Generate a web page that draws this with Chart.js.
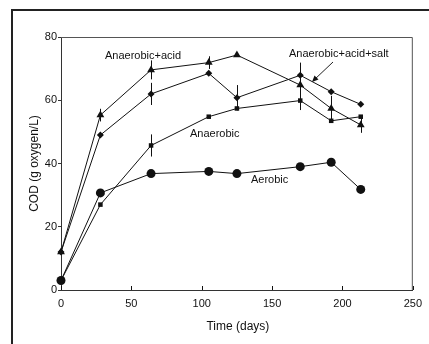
<!DOCTYPE html>
<html>
<head>
<meta charset="utf-8">
<script src="https://cdn.jsdelivr.net/npm/chart.js@4"></script>
<style>
  html, body { margin: 0; padding: 0; background: #fff; }
  #wrap { width: 429px; height: 344px; }
</style>
</head>
<body>
<div id="wrap"><canvas id="chart" width="429" height="344"></canvas></div>
<script>
// Data
const days = [0, 28, 64, 105, 125, 170, 192, 213];
const xTicks = [0, 50, 100, 150, 200, 250];
const yTicks = [0, 20, 40, 60, 80];

const acid = [12, 55.3, 69.6, 71.9, 74.3, 64.8, 57.4, 52.2];
const acidErr = [0, 2, 3, 2, 0, 4, 4, 2.5];

const acidSalt = [12, 49, 62, 68.5, 60.8, 67.9, 62.7, 58.7];
const acidSaltErr = [0, 0, 3.5, 0, 4, 4, 0, 0];

const anaerobic = [3, 27, 45.7, 54.8, 57.4, 59.9, 53.5, 54.8];
const anaerobicErr = [0, 0, 3.5, 0, 0, 3, 0, 0];

const aerobic = [3, 30.7, 36.8, 37.5, 36.8, 39, 40.4, 31.8];
const aerobicErr = [0, 0, 0, 0, 0, 0, 0, 0];

const ink = '#111';
const font = { family: 'Liberation Sans, Arial, sans-serif', size: 11 };

function pts(vals) {
    return vals.map((v, i) => ({ x: days[i], y: v }));
}

function series(label, vals, errs, style, r) {
    return {
        label: label,
        data: pts(vals),
        errs: errs,
        borderColor: ink,
        backgroundColor: ink,
        borderWidth: 1,
        pointStyle: style,
        pointRadius: r,
        pointBorderWidth: 0,
        clip: false,
        tension: 0
    };
}

// error bars, inward x ticks, frame, titles and curve labels
const decorations = {
    id: 'decorations',
    afterDatasetsDraw(chart) {
        const c = chart.ctx;
        const xs = chart.scales.x, ys = chart.scales.y;
        const a = chart.chartArea;
        c.save();
        c.strokeStyle = ink;
        c.lineWidth = 1;

        chart.data.datasets.forEach(ds => {
            ds.data.forEach((p, i) => {
                const e = ds.errs[i];
                if (!e) return;
                const px = Math.round(xs.getPixelForValue(p.x)) + 0.5;
                c.beginPath();
                c.moveTo(px, ys.getPixelForValue(p.y + e));
                c.lineTo(px, ys.getPixelForValue(p.y - e));
                c.stroke();
            });
        });

        // inward ticks on the x axis
        xTicks.forEach(t => {
            const px = Math.round(xs.getPixelForValue(t)) + 0.5;
            c.beginPath();
            c.moveTo(px, a.bottom);
            c.lineTo(px, a.bottom - 4);
            c.stroke();
        });

        // outer frame
        c.lineWidth = 2;
        c.strokeStyle = '#222';
        c.beginPath();
        c.moveTo(12, 344);
        c.lineTo(12, 10);
        c.lineTo(429, 10);
        c.stroke();

        c.fillStyle = ink;
        c.font = '12px ' + font.family;
        c.textAlign = 'center';
        c.textBaseline = 'middle';
        c.fillText('Time (days)', (a.left + a.right) / 2 + 1, 327);
        c.save();
        c.translate(35, (a.top + a.bottom) / 2);
        c.rotate(-Math.PI / 2);
        c.fillText('COD (g oxygen/L)', 0, 0);
        c.restore();

        c.font = '11px ' + font.family;
        c.textAlign = 'left';
        c.fillText('Anaerobic+acid', 105, 56);
        c.fillText('Anaerobic', 190, 134);
        c.fillText('Aerobic', 251, 180);
        c.fillText('Anaerobic+acid+salt', 289, 54);

        // arrow to the salt curve
        c.lineWidth = 1;
        c.beginPath();
        c.moveTo(333, 62);
        c.lineTo(314, 80);
        c.stroke();
        c.beginPath();
        c.moveTo(312, 82);
        c.lineTo(314.5, 75.5);
        c.lineTo(318.5, 79.5);
        c.closePath();
        c.fill();
        c.restore();
    }
};

new Chart(document.getElementById('chart'), {
    type: 'line',
    data: {
        datasets: [
            series('Anaerobic+acid', acid, acidErr, 'triangle', 4.5),
            series('Anaerobic+acid+salt', acidSalt, acidSaltErr, 'rectRot', 3.5),
            series('Anaerobic', anaerobic, anaerobicErr, 'rect', 3.2),
            series('Aerobic', aerobic, aerobicErr, 'circle', 4.5)
        ]
    },
    options: {
        responsive: false,
        animation: false,
        layout: { padding: { top: 37, right: 15, left: 0, bottom: 0 } },
        plugins: {
            legend: { display: false },
            tooltip: { enabled: false }
        },
        scales: {
            x: {
                type: 'linear',
                min: 0,
                max: 250,
                afterBuildTicks: s => { s.ticks = xTicks.map(v => ({ value: v })); },
                afterFit: s => { s.height = 54; },
                border: { color: '#333', width: 1 },
                grid: { display: false, drawTicks: false },
                ticks: { color: ink, font: font, padding: 7, maxRotation: 0 }
            },
            y: {
                min: 0,
                max: 80,
                afterBuildTicks: s => { s.ticks = yTicks.map(v => ({ value: v })); },
                afterFit: s => { s.width = 61; },
                border: { color: '#333', width: 1 },
                grid: { drawOnChartArea: false, drawTicks: true, tickLength: 3, color: '#333' },
                ticks: { color: ink, font: font, padding: 1 }
            }
        }
    },
    plugins: [decorations, {
        id: 'box',
        afterDraw(chart) {
            const a = chart.chartArea, c = chart.ctx;
            c.save();
            c.strokeStyle = '#555';
            c.lineWidth = 1;
            c.beginPath();
            c.moveTo(a.left, a.top + 0.5);
            c.lineTo(a.right - 0.5, a.top + 0.5);
            c.lineTo(a.right - 0.5, a.bottom);
            c.stroke();
            c.restore();
        }
    }]
});
</script>
</body>
</html>
